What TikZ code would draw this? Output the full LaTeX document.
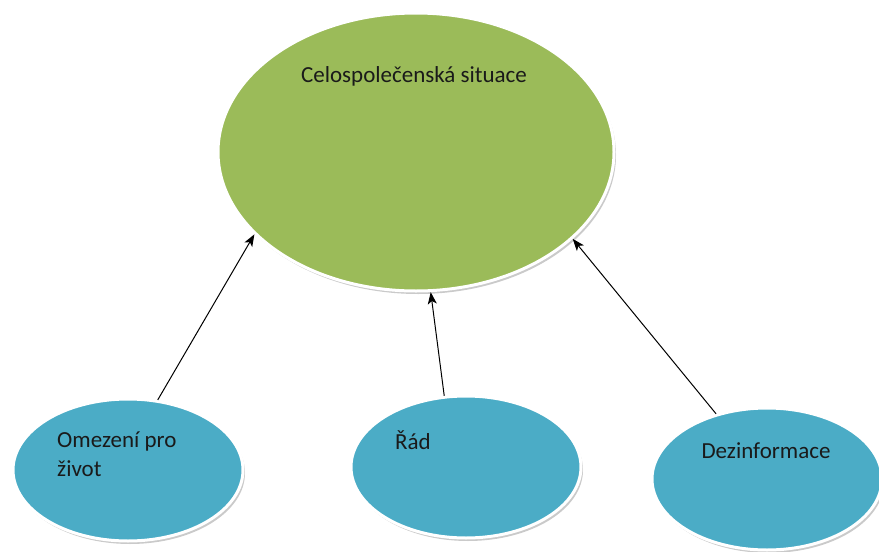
\documentclass[tikz,border=0pt]{standalone}
\usepackage{fontspec}
\setmainfont{Carlito}
\usetikzlibrary{shapes.geometric,shadows,arrows.meta}
\definecolor{ogreen}{HTML}{9BBB59}
\definecolor{oblue}{HTML}{4BACC6}
\definecolor{txt}{HTML}{1A1A1A}
\tikzset{
  bubble/.style={ellipse, draw=white, line width=3pt, inner sep=0pt,
    drop shadow={shadow xshift=2pt, shadow yshift=-3pt, fill=black!35, opacity=0.6}},
  bigbubble/.style={bubble, fill=ogreen, minimum width=396pt, minimum height=278pt},
  smallbubble/.style={bubble, fill=oblue, minimum width=230pt, minimum height=142pt},
  lbl/.style={text=txt, font=\fontsize{23}{29}\selectfont, inner sep=0pt},
  conn/.style={-{Stealth[length=12pt,width=9pt,inset=3pt]}, line width=1pt, black}
}
\begin{document}
\begin{tikzpicture}[x=1pt,y=-1pt]
\useasboundingbox (0,0) rectangle (879,552);
\node[bigbubble] (top) at (416,152) {};
\node[smallbubble] (l) at (128,470) {};
\node[smallbubble] (m) at (466,467) {};
\node[smallbubble] (r) at (767,479) {};
\node[lbl] (ttop) at (414,76) {Celospolečenská situace};
\node[lbl, align=left, anchor=north west] (tl) at (57,432) {Omezení pro\\život};
\node[lbl] (tm) at (413,440) {Řád};
\node[lbl] (tr) at (766,451) {Dezinformace};
\draw[conn] (l.67) -- (top.207);
\draw[conn] (m.107) -- (top.276);
\draw[conn] (r.128) -- (top.331);
\end{tikzpicture}
\end{document}
